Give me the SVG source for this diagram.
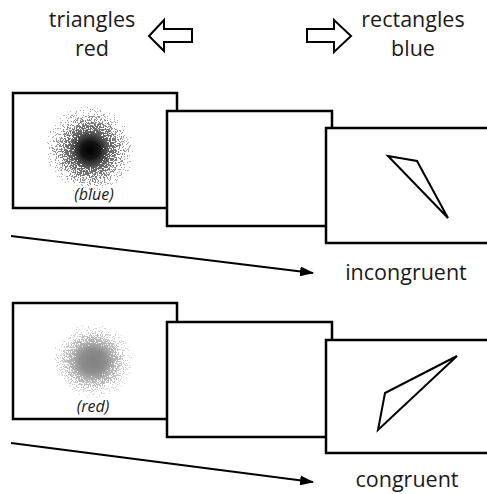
<svg xmlns="http://www.w3.org/2000/svg" width="487" height="494" viewBox="0 0 487 494">
<style>
.frame{fill:#fff;stroke:#000;stroke-width:2.5}
.shape{fill:none;stroke:#000;stroke-width:2;stroke-linejoin:miter}
.block{fill:#fff;stroke:#000;stroke-width:2}
.lbl{font-family:"Open Sans","Liberation Sans",sans-serif;font-size:21.5px;fill:#1a1a1a;text-anchor:middle}
.cap{font-family:"Open Sans","Liberation Sans",sans-serif;font-size:16px;font-style:italic;fill:#1a1a1a;text-anchor:middle}
.conn{stroke:#000;stroke-width:2;fill:none}
</style>
<defs>
<marker id="ah" markerWidth="14" markerHeight="10" refX="13" refY="5" orient="auto" markerUnits="userSpaceOnUse">
<path d="M0,0 L14,5 L0,10 Z" fill="#000"/>
</marker>
<radialGradient id="dens">
<stop offset="0" stop-color="#000" stop-opacity="1"/>
<stop offset="0.2" stop-color="#000" stop-opacity="0.92"/>
<stop offset="0.42" stop-color="#000" stop-opacity="0.62"/>
<stop offset="0.72" stop-color="#000" stop-opacity="0.45"/>
<stop offset="1" stop-color="#000" stop-opacity="0.27"/>
</radialGradient>
<radialGradient id="densG">
<stop offset="0" stop-color="#000" stop-opacity="1"/>
<stop offset="0.3" stop-color="#000" stop-opacity="0.9"/>
<stop offset="0.5" stop-color="#000" stop-opacity="0.62"/>
<stop offset="0.75" stop-color="#000" stop-opacity="0.44"/>
<stop offset="1" stop-color="#000" stop-opacity="0.27"/>
</radialGradient>
<filter id="speckle" x="0" y="0" width="1" height="1" color-interpolation-filters="sRGB">
<feTurbulence type="fractalNoise" baseFrequency="0.85" numOctaves="2" seed="3" result="t"/>
<feColorMatrix in="t" type="matrix" values="0 0 0 0 0  0 0 0 0 0  0 0 0 0 0  1 0 0 0 0" result="n"/>
<feComposite in="SourceGraphic" in2="n" operator="arithmetic" k1="0" k2="1" k3="-1" k4="0.5" result="d"/>
<feComponentTransfer in="d" result="m">
<feFuncA type="discrete" tableValues="0 1"/>
</feComponentTransfer>
<feFlood flood-color="#000" result="c"/>
<feComposite in="c" in2="m" operator="in" result="o"/>
<feComposite in="o" in2="SourceAlpha" operator="in"/>
</filter>
<filter id="speckleGray" x="0" y="0" width="1" height="1" color-interpolation-filters="sRGB">
<feTurbulence type="fractalNoise" baseFrequency="0.85" numOctaves="2" seed="7" result="t"/>
<feColorMatrix in="t" type="matrix" values="0 0 0 0 0  0 0 0 0 0  0 0 0 0 0  1 0 0 0 0" result="n"/>
<feComposite in="SourceGraphic" in2="n" operator="arithmetic" k1="0" k2="1" k3="-1" k4="0.5" result="d"/>
<feComponentTransfer in="d" result="m">
<feFuncA type="discrete" tableValues="0 1"/>
</feComponentTransfer>
<feFlood flood-color="#808080" result="c"/>
<feComposite in="c" in2="m" operator="in" result="o"/>
<feComposite in="o" in2="SourceAlpha" operator="in"/>
</filter>
</defs>

<g id="legend-left">
<text class="lbl" x="92" y="27">triangles</text>
<text class="lbl" x="92" y="56">red</text>
<polygon class="block" points="149,36 164,20 164,29 192,29 192,42 164,42 164,51"/>
</g>
<g id="legend-right">
<text class="lbl" x="413" y="27">rectangles</text>
<text class="lbl" x="413" y="56">blue</text>
<polygon class="block" points="351,36 334,20 334,29 307,29 307,42 334,42 334,52"/>
</g>

<g id="trial-incongruent">
<g id="inc-cue">
<rect class="frame" x="13" y="93" width="164" height="115"/>
<ellipse cx="90" cy="150" rx="45" ry="44" fill="url(#dens)" filter="url(#speckle)"/>
<text class="cap" x="94" y="200">(blue)</text>
</g>
<g id="inc-blank">
<rect class="frame" x="167" y="111" width="165" height="115"/>
</g>
<g id="inc-target">
<rect class="frame" x="326" y="128" width="170" height="115"/>
<polygon class="shape" points="388,156 417,161 448,218"/>
</g>
<text class="lbl" x="406" y="280">incongruent</text>
</g>

<g id="trial-congruent">
<g id="con-cue">
<rect class="frame" x="13" y="303" width="164" height="116"/>
<ellipse cx="93" cy="361" rx="41" ry="38" fill="url(#densG)" filter="url(#speckleGray)"/>
<text class="cap" x="93" y="412">(red)</text>
</g>
<g id="con-blank">
<rect class="frame" x="167" y="322" width="165" height="115"/>
</g>
<g id="con-target">
<rect class="frame" x="326" y="340" width="170" height="113"/>
<polygon class="shape" points="457,356 385,393 378,430"/>
</g>
<text class="lbl" x="407" y="487">congruent</text>
</g>

<g id="connectors">
<line class="conn" x1="11" y1="236" x2="313" y2="273" marker-end="url(#ah)"/>
<line class="conn" x1="11" y1="443" x2="313" y2="482" marker-end="url(#ah)"/>
</g>
</svg>
